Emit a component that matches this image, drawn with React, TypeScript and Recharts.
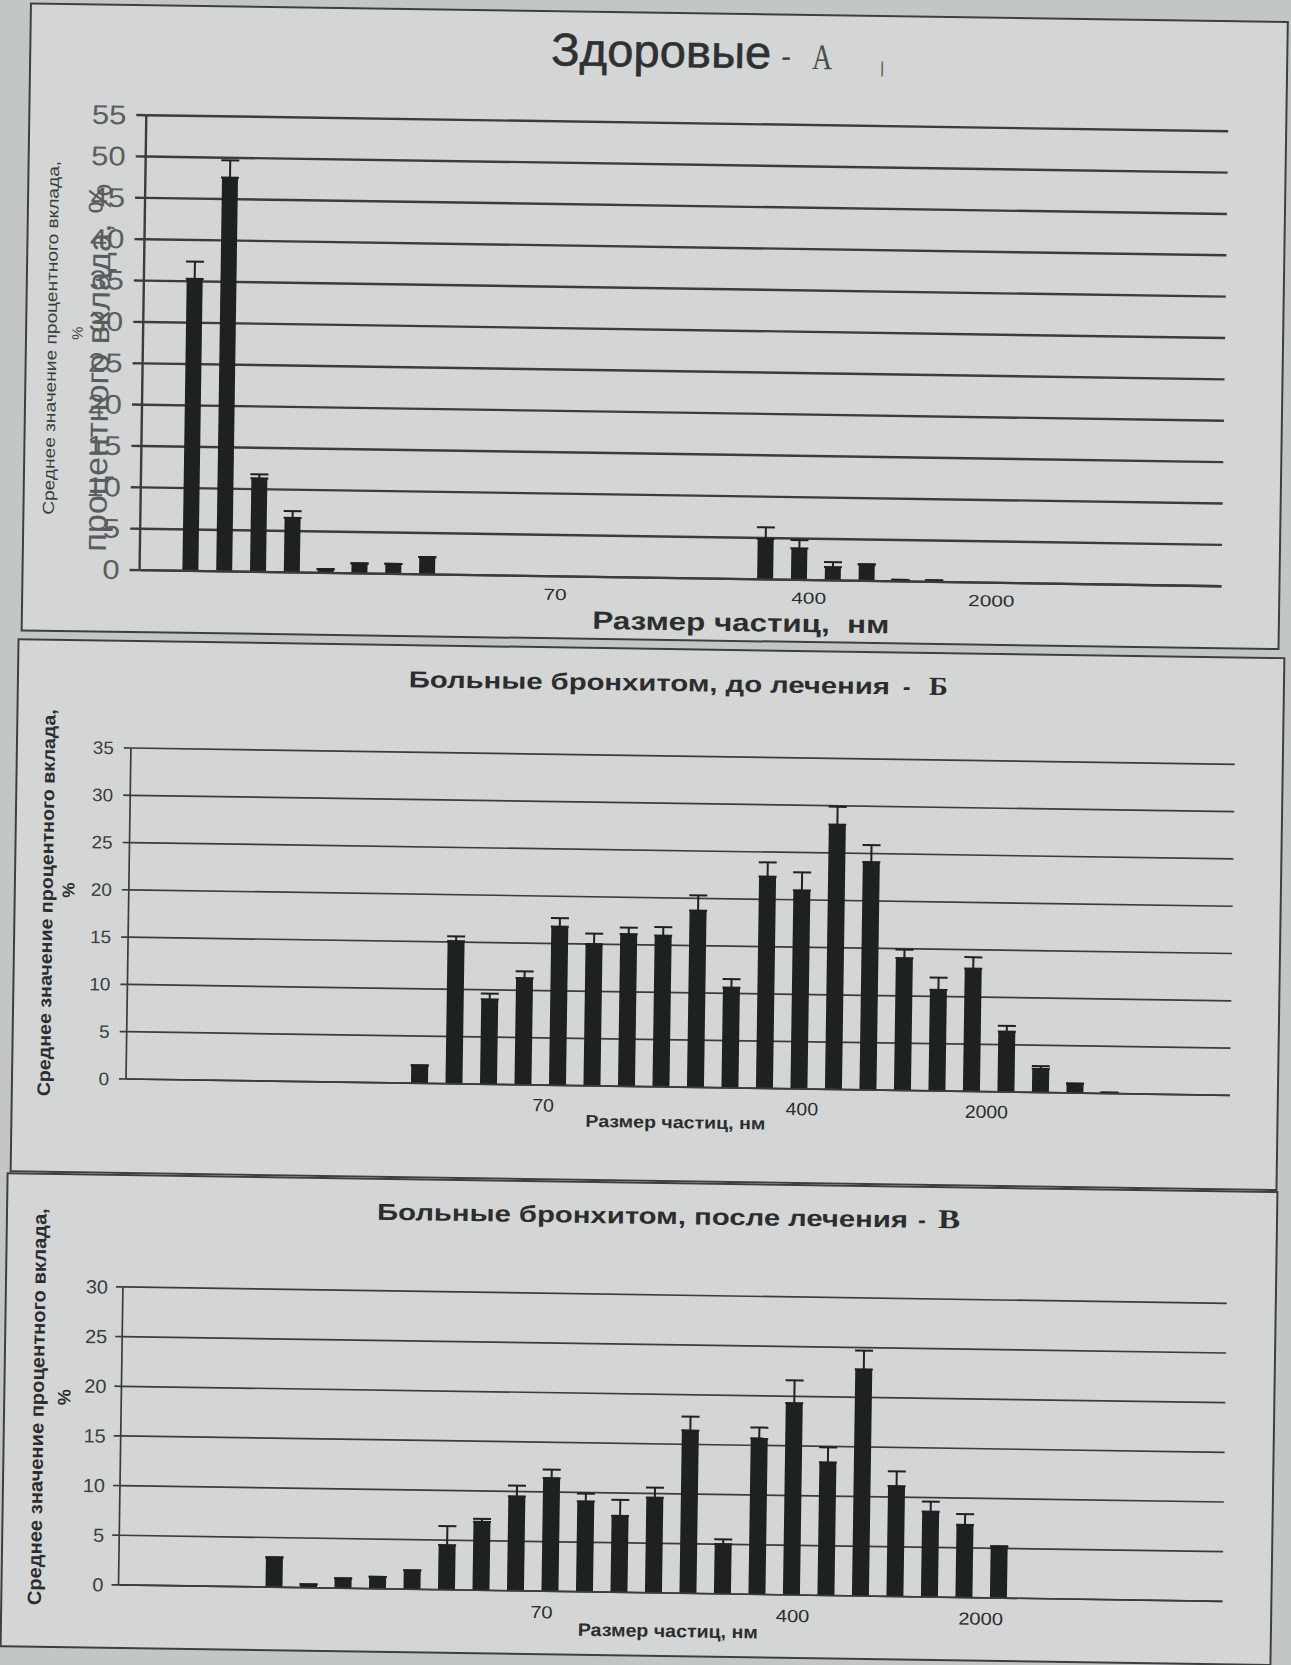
import React from 'react';
import { BarChart, Bar, XAxis, YAxis, CartesianGrid, ErrorBar } from 'recharts';

// ---------- data ----------
const BINS = [1, 2, 3, 4, 5, 6, 7, 8, 9, 10, 11, 12, 13, 14, 15, 16, 17, 18, 19, 20, 21, 22, 23, 24, 25, 26, 27, 28, 29, 30, 31, 32];

const TICK_LABELS = ['70', '400', '2000'];

// Здоровые - А
const HEALTHY = [null, 35.3, 47.6, 11.3, 6.6, 0.45, 1.2, 1.2, 2.1, null, null, null, null, null, null, null, null, null, 4.9, 3.8, 1.6, 2.0, 0.2, 0.2, null, null, null, null, null, null, null, null];
const HEALTHY_ERR = [0, 2.1, 2.1, 0.5, 0.8, 0, 0, 0, 0, 0, 0, 0, 0, 0, 0, 0, 0, 0, 1.4, 1.0, 0.6, 0, 0, 0, 0, 0, 0, 0, 0, 0, 0, 0];
const HEALTHY_TICKS = [12.3, 19.8, 25.2];
const HEALTHY_Y = [0, 5, 10, 15, 20, 25, 30, 35, 40, 45, 50, 55];

// Больные бронхитом, до лечения - Б
const BEFORE = [null, null, null, null, null, null, null, null, 1.9, 15.1, 9.0, 11.3, 16.8, 15.0, 16.1, 16.0, 18.7, 10.6, 22.4, 21.0, 28.0, 24.1, 14.0, 10.7, 13.0, 6.4, 2.5, 1.0, 0.1, null, null, null];
const BEFORE_ERR = [0, 0, 0, 0, 0, 0, 0, 0, 0, 0.5, 0.6, 0.7, 0.9, 1.1, 0.7, 0.9, 1.6, 0.9, 1.5, 1.9, 1.9, 1.8, 0.9, 1.3, 1.2, 0.6, 0.3, 0, 0, 0, 0, 0];
const BEFORE_TICKS = [12.1, 19.6, 24.95];
const BEFORE_Y = [0, 5, 10, 15, 20, 25, 30, 35];

// Больные бронхитом, после лечения - В
const AFTER = [null, null, null, null, 3.0, 0.35, 1.0, 1.2, 1.9, 4.5, 6.9, 9.5, 11.4, 9.1, 7.7, 9.6, 16.4, 5.0, 15.7, 19.3, 13.4, 22.8, 11.1, 8.6, 7.3, 5.2, null, null, null, null, null, null];
const AFTER_ERR = [0, 0, 0, 0, 0, 0, 0, 0, 0, 1.9, 0.3, 1.1, 0.85, 0.8, 1.6, 1.0, 1.4, 0.5, 1.1, 2.3, 1.5, 1.9, 1.5, 1.0, 1.1, 0, 0, 0, 0, 0, 0, 0];
const AFTER_TICKS = [12.27, 19.55, 25.0];
const AFTER_Y = [0, 5, 10, 15, 20, 25, 30];

// ---------- styling ----------
const FONT = '"Liberation Sans", Arial, Helvetica, sans-serif';
const SERIF = '"Liberation Serif", "Times New Roman", serif';
const INK = '#2b2d2e';
const BAR = '#1e2122';
const GRID = '#3a3d3e';
const BOX_BG = '#d3d6d5';
const PAGE_BG = '#c3c6c7';

function buildData(values: (number | null)[], errs: number[]) {
  return BINS.map((b, i) => ({ x: b - 0.5, v: values[i], e: [0, errs[i] || 0] })).filter(
    (d) => d.v !== null && d.v !== undefined
  );
}

const makeYTick = (fs: number, sx: number, fill: string) => (props: any) => {
  const { x, y, payload } = props;
  return (
    <g transform={`translate(${x},${y})`}>
      <text
        x={0}
        y={0}
        transform={`scale(${sx},1)`}
        textAnchor="end"
        dominantBaseline="central"
        fontSize={fs}
        fill={fill}
        fontFamily={FONT}
      >
        {payload.value}
      </text>
    </g>
  );
};

const makeXTick = (positions: number[], fs: number, sx: number, dy: number, fill: string) => (props: any) => {
  const { x, y, payload } = props;
  let idx = positions.indexOf(payload.value);
  if (idx < 0) {
    idx = positions.findIndex((p) => Math.abs(p - payload.value) < 1e-6);
  }
  const label = idx >= 0 ? TICK_LABELS[idx] : '';
  return (
    <g transform={`translate(${x},${y + dy})`}>
      <text
        x={0}
        y={0}
        transform={`scale(${sx},1)`}
        textAnchor="middle"
        dominantBaseline="central"
        fontSize={fs}
        fill={fill}
        fontFamily={FONT}
      >
        {label}
      </text>
    </g>
  );
};

type PanelProps = {
  left: number;
  top: number;
  width: number;
  height: number;
  plot: { left: number; right: number; top: number; bottom: number };
  values: (number | null)[];
  errs: number[];
  yTicks: number[];
  xTicks: number[];
  barSize: number;
  gridWidth: number;
  yTickSize: number;
  yTickMargin: number;
  yFont: number;
  yScaleX: number;
  yFill: string;
  xFont: number;
  xScaleX: number;
  xDy: number;
};

function Panel(p: PanelProps) {
  const data = buildData(p.values, p.errs);
  const xAxisH = 40;
  return (
    <div
      style={{
        position: 'absolute',
        left: p.left,
        top: p.top,
        width: p.width,
        height: p.height,
        background: BOX_BG,
      }}
    >
      <div style={{ position: 'absolute', left: 0, top: 0 }}>
        <BarChart
          width={p.width}
          height={p.height}
          data={data}
          margin={{ top: p.plot.top, right: p.plot.right, bottom: p.plot.bottom - xAxisH, left: 0 }}
        >
          <CartesianGrid vertical={false} stroke={GRID} strokeWidth={p.gridWidth} />
          <XAxis
            type="number"
            dataKey="x"
            domain={[0, 32]}
            ticks={p.xTicks}
            interval={0}
            allowDataOverflow
            height={xAxisH}
            tickSize={0}
            tickMargin={0}
            tickLine={false}
            axisLine={{ stroke: GRID, strokeWidth: p.gridWidth }}
            tick={makeXTick(p.xTicks, p.xFont, p.xScaleX, p.xDy, INK)}
          />
          <YAxis
            type="number"
            domain={[0, p.yTicks[p.yTicks.length - 1]]}
            ticks={p.yTicks}
            interval={0}
            width={p.plot.left}
            tickSize={p.yTickSize}
            tickMargin={p.yTickMargin}
            tickLine={{ stroke: GRID, strokeWidth: p.gridWidth }}
            axisLine={{ stroke: GRID, strokeWidth: p.gridWidth }}
            tick={makeYTick(p.yFont, p.yScaleX, p.yFill)}
          />
          <Bar dataKey="v" fill={BAR} barSize={p.barSize} isAnimationActive={false}>
            <ErrorBar dataKey="e" width={9} strokeWidth={2} stroke={BAR} direction="y" isAnimationActive={false} />
          </Bar>
        </BarChart>
      </div>
      <div
        style={{
          position: 'absolute',
          left: 0,
          top: 0,
          width: p.width,
          height: p.height,
          boxSizing: 'border-box',
          border: '2px solid #3c3f40',
          pointerEvents: 'none',
        }}
      />
    </div>
  );
}

function Overlay() {
  const rot = (x: number, y: number) => `rotate(-90 ${x} ${y})`;
  return (
    <svg
      width={1320}
      height={1690}
      style={{ position: 'absolute', left: 0, top: 0, pointerEvents: 'none', overflow: 'visible' }}
    >
      {/* ---- top: Здоровые - А ---- */}
      <text
        x={552}
        y={57}
        fontSize={46}
        fill="#2e3132"
        stroke="#2e3132"
        strokeWidth={0.6}
        fontFamily={FONT}
        textLength={220}
        lengthAdjust="spacingAndGlyphs"
      >
        Здоровые
      </text>
      <text x={782} y={55} fontSize={30} fill="#343738" fontFamily={FONT}>
        -
      </text>
      <text x={813} y={57} fontSize={36} fill="#4a4d4e" fontFamily={SERIF} textLength={20} lengthAdjust="spacingAndGlyphs">
        А
      </text>
      <text x={881} y={60} fontSize={16} fill="#555" fontFamily={FONT}>
        |
      </text>
      <text
        x={750}
        y={620}
        textAnchor="middle"
        fontSize={25}
        fontWeight="bold"
        fill={INK}
        fontFamily={FONT}
        textLength={297}
        lengthAdjust="spacingAndGlyphs"
        style={{ whiteSpace: 'pre' }}
      >
        {'Размер частиц,  нм'}
      </text>
      <text
        x={56}
        y={337}
        transform={rot(56, 337)}
        textAnchor="middle"
        dominantBaseline="central"
        fontSize={16}
        fill="#3a3d3e"
        fontFamily={FONT}
        textLength={354}
        lengthAdjust="spacingAndGlyphs"
      >
        Среднее значение процентного вклада,
      </text>
      <text x={82} y={332} transform={rot(82, 332)} textAnchor="middle" dominantBaseline="central" fontSize={15} fill="#3a3d3e" fontFamily={FONT}>
        %
      </text>
      <text
        x={103}
        y={366}
        transform={rot(103, 366)}
        textAnchor="middle"
        dominantBaseline="central"
        fontSize={32}
        fill="#595c5d"
        fontFamily={FONT}
        textLength={368}
        lengthAdjust="spacingAndGlyphs"
      >
        процентного вклада, %
      </text>

      {/* ---- middle: до лечения - Б ---- */}
      <text x={419} y={681} fontSize={23} fontWeight="bold" fill={INK} fontFamily={FONT} textLength={481} lengthAdjust="spacingAndGlyphs">
        Больные бронхитом, до лечения
      </text>
      <text x={913} y={681} fontSize={23} fontWeight="bold" fill={INK} fontFamily={FONT}>
        -
      </text>
      <text x={939} y={681} fontSize={26} fontWeight="bold" fill={INK} fontFamily={SERIF} textLength={19} lengthAdjust="spacingAndGlyphs">
        Б
      </text>
      <text x={692} y={1118} textAnchor="middle" fontSize={17} fontWeight="bold" fill={INK} fontFamily={FONT} textLength={180} lengthAdjust="spacingAndGlyphs">
        Размер частиц, нм
      </text>
      <text
        x={60}
        y={902}
        transform={rot(60, 902)}
        textAnchor="middle"
        dominantBaseline="central"
        fontSize={18}
        fontWeight="bold"
        fill={INK}
        fontFamily={FONT}
        textLength={387}
        lengthAdjust="spacingAndGlyphs"
      >
        Среднее значение процентного вклада,
      </text>
      <text x={82} y={889} transform={rot(82, 889)} textAnchor="middle" dominantBaseline="central" fontSize={17} fontWeight="bold" fill={INK} fontFamily={FONT}>
        %
      </text>

      {/* ---- bottom: после лечения - В ---- */}
      <text x={395} y={1214} fontSize={23} fontWeight="bold" fill={INK} fontFamily={FONT} textLength={531} lengthAdjust="spacingAndGlyphs">
        Больные бронхитом, после лечения
      </text>
      <text x={936} y={1214} fontSize={23} fontWeight="bold" fill={INK} fontFamily={FONT}>
        -
      </text>
      <text x={956} y={1214} fontSize={27} fontWeight="bold" fill={INK} fontFamily={SERIF} textLength={22} lengthAdjust="spacingAndGlyphs">
        В
      </text>
      <text x={692} y={1627} textAnchor="middle" fontSize={18} fontWeight="bold" fill={INK} fontFamily={FONT} textLength={180} lengthAdjust="spacingAndGlyphs">
        Размер частиц, нм
      </text>
      <text
        x={58}
        y={1406}
        transform={rot(58, 1406)}
        textAnchor="middle"
        dominantBaseline="central"
        fontSize={19}
        fontWeight="bold"
        fill={INK}
        fontFamily={FONT}
        textLength={397}
        lengthAdjust="spacingAndGlyphs"
      >
        Среднее значение процентного вклада,
      </text>
      <text x={85} y={1396} transform={rot(85, 1396)} textAnchor="middle" dominantBaseline="central" fontSize={18} fontWeight="bold" fill={INK} fontFamily={FONT}>
        %
      </text>
    </svg>
  );
}

export default function App() {
  return (
    <div
      style={{
        position: 'absolute',
        left: 0,
        top: 0,
        width: 1291,
        height: 1665,
        overflow: 'hidden',
        background: PAGE_BG,
      }}
    >
      <div
        style={{
          position: 'absolute',
          left: 0,
          top: 0,
          width: 1320,
          height: 1690,
          transform: 'rotate(0.85deg)',
          transformOrigin: '0 0',
        }}
      >
        <Panel
          left={30}
          top={2}
          width={1259}
          height={629}
          plot={{ left: 118, right: 59, top: 111, bottom: 63 }}
          values={HEALTHY}
          errs={HEALTHY_ERR}
          yTicks={HEALTHY_Y}
          xTicks={HEALTHY_TICKS}
          barSize={16}
          gridWidth={2.4}
          yTickSize={10}
          yTickMargin={10}
          yFont={27}
          yScaleX={1.15}
          yFill="#5b5e5f"
          xFont={16}
          xScaleX={1.3}
          xDy={18}
        />
        <Panel
          left={27}
          top={638}
          width={1268}
          height={534}
          plot={{ left: 115, right: 49, top: 108, bottom: 95 }}
          values={BEFORE}
          errs={BEFORE_ERR}
          yTicks={BEFORE_Y}
          xTicks={BEFORE_TICKS}
          barSize={17}
          gridWidth={1.7}
          yTickSize={7}
          yTickMargin={10}
          yFont={18}
          yScaleX={1.05}
          yFill="#3a3d3e"
          xFont={18}
          xScaleX={1.08}
          xDy={20}
        />
        <Panel
          left={24}
          top={1172}
          width={1272}
          height={475}
          plot={{ left: 118, right: 50, top: 113, bottom: 64 }}
          values={AFTER}
          errs={AFTER_ERR}
          yTicks={AFTER_Y}
          xTicks={AFTER_TICKS}
          barSize={17}
          gridWidth={1.7}
          yTickSize={7}
          yTickMargin={8}
          yFont={19}
          yScaleX={1.05}
          yFill="#3a3d3e"
          xFont={17.5}
          xScaleX={1.15}
          xDy={21}
        />
        <Overlay />
      </div>
    </div>
  );
}
